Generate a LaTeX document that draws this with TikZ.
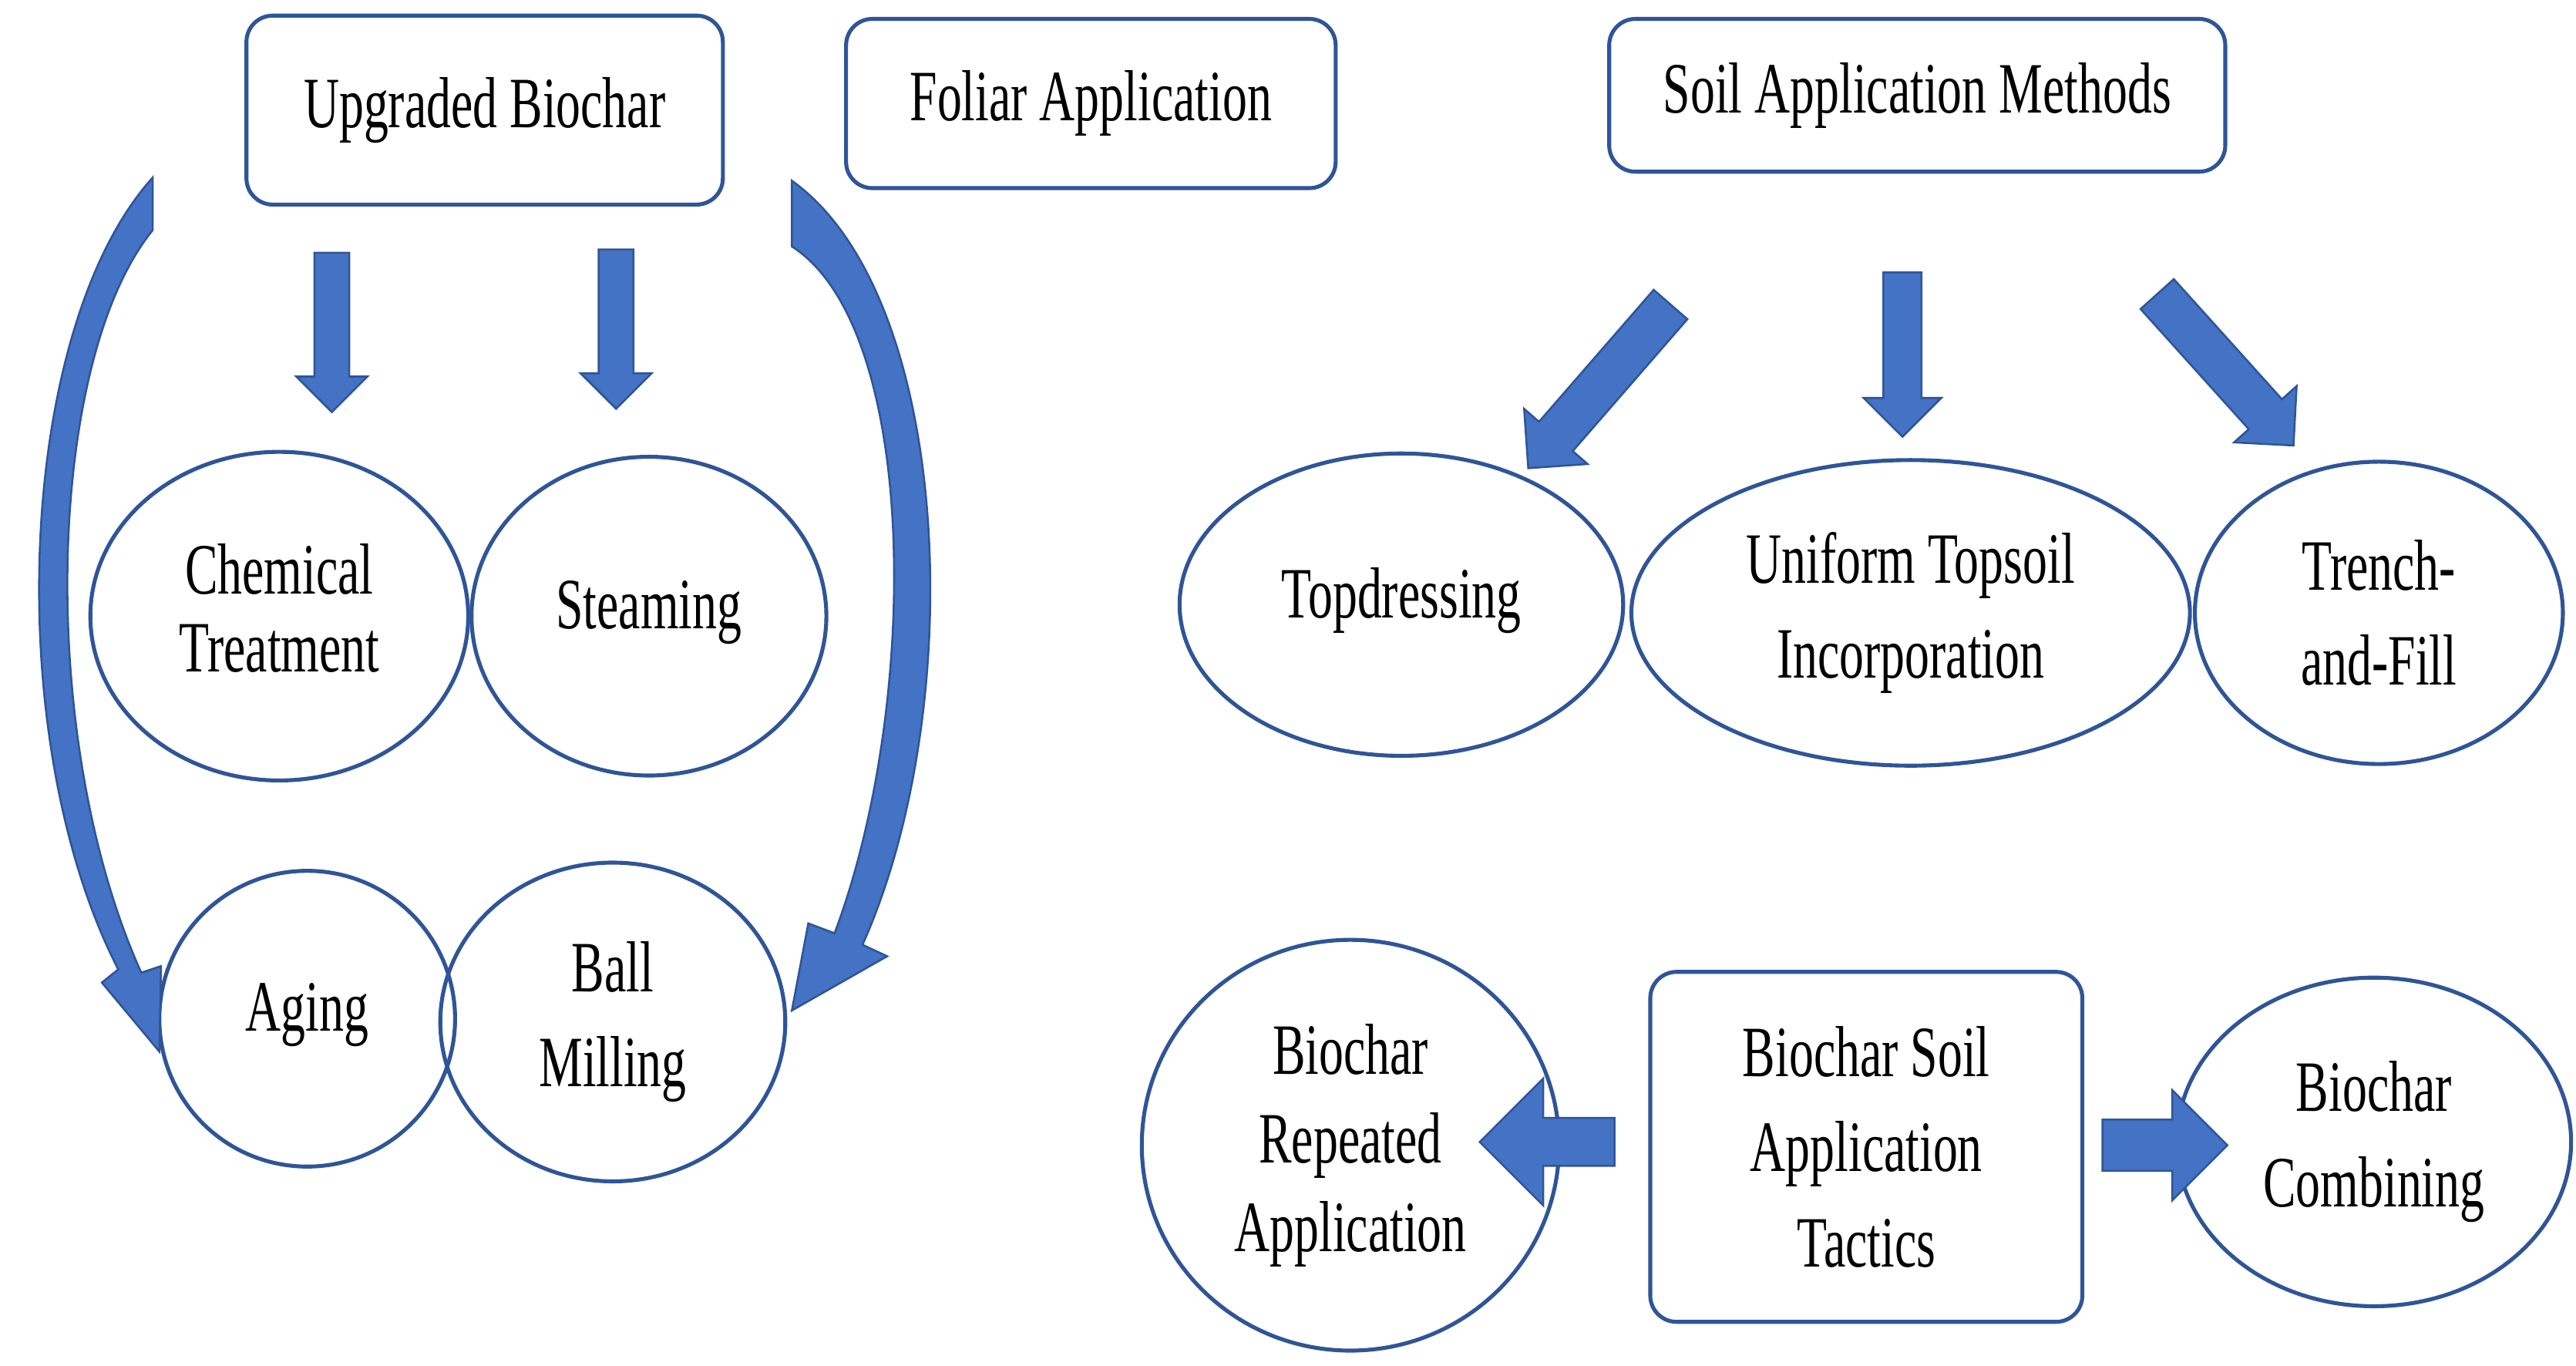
\documentclass[tikz,border=0pt]{standalone}
\usepackage{fontspec}
\setmainfont{Liberation Serif}[FakeStretch=0.68]
\usetikzlibrary{shapes.geometric,shapes.arrows}
\definecolor{bd}{HTML}{2F5597}
\definecolor{bf}{HTML}{4472C4}
\begin{document}
\begin{tikzpicture}[x=0.5pt,y=-0.5pt,
 box/.style={draw=bd,line width=1.2pt,rounded corners=8pt,fill=white,align=center,font=\fontsize{22}{27}\selectfont,inner sep=0pt},
 ell/.style={ellipse,draw=bd,line width=1.2pt,align=center,font=\fontsize{22}{27}\selectfont,inner sep=0pt},
 arr/.style={single arrow,draw=bd,fill=bf,line width=0.6pt,inner sep=#1,minimum width=0pt},
 blue/.style={fill=bf,draw=bd,line width=0.6pt}]
\useasboundingbox (0,0) rectangle (1568,831);
\node[box,minimum width=145pt,minimum height=57.5pt] (ub) at (295,67) {\raisebox{4pt}{Upgraded Biochar}};
\node[box,minimum width=149pt,minimum height=51.5pt] (fa) at (664,63) {Foliar Application};
\node[box,minimum width=187.5pt,minimum height=46.5pt] (sa) at (1167,58) {Soil Application Methods};
\node[box,minimum width=131.5pt,minimum height=106.5pt] (ta) at (1136,698) {Biochar Soil\\[2pt]Application\\[2pt]Tactics};
\node[ell,minimum width=115pt,minimum height=100pt] (ch) at (170,375) {\raisebox{5pt}{\shortstack{Chemical\\[6pt]Treatment}}};
\node[ell,minimum width=108pt,minimum height=97pt] (st) at (395,375) {\raisebox{7pt}{Steaming}};
\node[ell,minimum width=90pt,minimum height=90pt] (ag) at (187,620) {\raisebox{7pt}{Aging}};
\node[ell,minimum width=105pt,minimum height=97pt] (bm) at (373,622) {Ball\\[2pt]Milling};
\node[ell,minimum width=135pt,minimum height=92pt] (td) at (853,368) {\raisebox{7pt}{Topdressing}};
\node[ell,minimum width=170pt,minimum height=93pt] (ut) at (1163,373) {Uniform Topsoil\\[2pt]Incorporation};
\node[ell,minimum width=112pt,minimum height=92pt] (tf) at (1448,373) {Trench-\\[2pt]and-Fill};
\node[ell,minimum width=127pt,minimum height=125pt] (ra) at (822,697) {Biochar\\[0pt]Repeated\\[0pt]Application};
\node[ell,minimum width=120pt,minimum height=100pt] (bc) at (1445,695) {Biochar\\[2pt]Combining};
% block arrows
\node[arr=5pt,minimum height=48.5pt,single arrow head extend=5.5pt,rotate=-90] (a1) at (202,197) {};
\node[arr=5pt,minimum height=48.5pt,single arrow head extend=5.5pt,rotate=-90] (a2) at (375,195) {};
\node[arr=6.5pt,minimum height=66pt,single arrow head extend=6pt,rotate=229] (a3) at (978,230) {};
\node[arr=5.5pt,minimum height=50pt,single arrow head extend=6pt,rotate=-90] (a4) at (1158,210) {};
\node[arr=6.5pt,minimum height=62pt,single arrow head extend=6pt,rotate=-48] (a5) at (1350,220) {};
\node[arr=7pt,minimum height=41pt,single arrow head extend=12pt,rotate=180] (a6) at (949,695) {};
\node[arr=7.5pt,minimum height=38pt,single arrow head extend=9pt] (a7) at (1310,697) {};
% curved arrows
\path[blue] (93,108) .. controls (10,200) and (0,450) .. (72,590) -- (62,598) -- (97,640) -- (98,588) -- (86,592) .. controls (22,450) and (28,220) .. (93,140) -- cycle;
\path[blue] (482,110) .. controls (580,180) and (590,430) .. (525,575) -- (540,582) -- (482,615) -- (492,562) -- (508,568) .. controls (560,430) and (560,200) .. (482,150) -- cycle;
\end{tikzpicture}
\end{document}
